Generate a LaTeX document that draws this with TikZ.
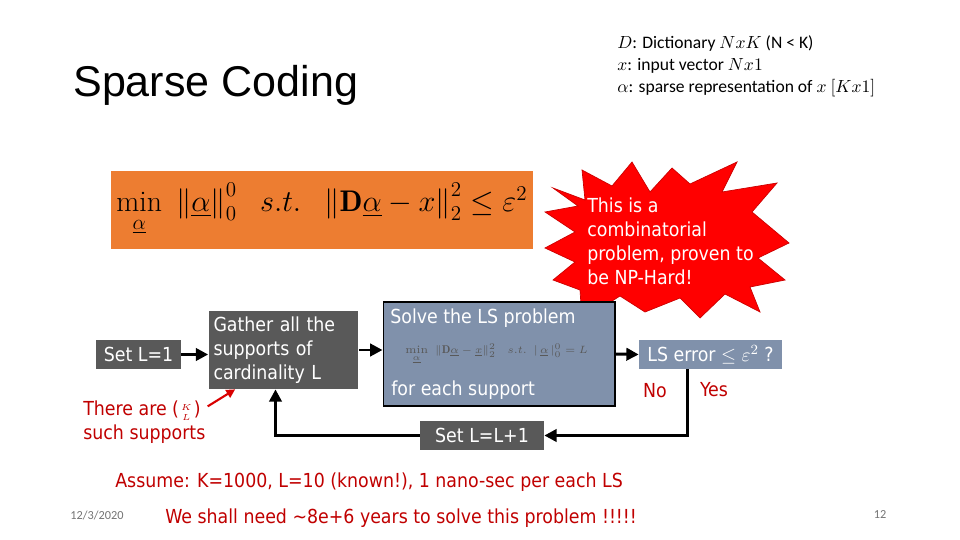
\documentclass[tikz,border=0pt]{standalone}
\usepackage{fontspec}
\usepackage{amsmath}
\usetikzlibrary{arrows.meta, positioning, calc}
\newfontfamily\tahoma{DejaVu Sans Condensed}
\newfontfamily\calibri{Carlito}
\newfontfamily\arial{Liberation Sans}
\definecolor{SlideGray}{HTML}{595959}
\definecolor{SlideBlue}{HTML}{8091AB}
\definecolor{SlideOrange}{HTML}{ED7D31}
\definecolor{SlideRed}{HTML}{C00000}
\definecolor{BurstRed}{HTML}{FF0000}
\newcommand{\boxfont}{\tahoma\fontsize{11}{13.6}\selectfont}
\tikzset{
    % dark grey step boxes
    graybox/.style={
        rectangle,
        fill=SlideGray,
        text=white,
        minimum height=0.58cm,
        inner sep=2pt,
        font=\boxfont
    },
    % blue-grey boxes
    bluebox/.style={
        rectangle,
        fill=SlideBlue,
        text=white,
        minimum height=0.58cm,
        inner sep=2pt,
        font=\boxfont
    },
    % red remarks
    remark/.style={
        text=SlideRed,
        inner sep=0pt,
        align=left,
        font=\boxfont
    },
    % arrow styles
    arrow/.style={
        -{Triangle[length=7pt,width=7pt]},
        line width=1.7pt,
        draw=black
    },
    redarrow/.style={
        -{Triangle[length=5pt,width=5pt]},
        line width=1.2pt,
        draw=red!85!black
    }
}

\begin{document}
\begin{tikzpicture}[x=0.02cm, y=-0.02cm]
    \useasboundingbox (0,0) rectangle (960,540);

    % title and notation
    \node[anchor=base west, inner sep=0, font=\arial\fontsize{24.5}{28}\selectfont] (title) at (73,97) {Sparse Coding};
    \node[anchor=west, inner sep=0, align=left, font=\calibri\fontsize{10}{12.5}\selectfont] (notation) at (617,66)
        {$D$: Dictionary $NxK$ (N < K)\\ $x$: input vector $Nx1$\\ $\alpha$: sparse representation of $x$ $[Kx1]$};

    % objective
    \node[rectangle, fill=SlideOrange, minimum width=8.36cm, minimum height=1.56cm, font=\fontsize{17}{20}\selectfont] (objective) at (322,210)
        {$\min\limits_{\underline{\alpha}}\ \left\|\underline{\alpha}\right\|_0^0\ \ s.t.\ \ \left\|\mathbf{D}\underline{\alpha}-x\right\|_2^2\leq\varepsilon^2$};

    % starburst
    \fill[BurstRed, draw=red!80!black, line width=0.4pt]
        (553,188) -- (585,200) -- (582,170) -- (612,186) -- (632,162) -- (650,192)
        -- (672,168) -- (690,184) -- (737,162) -- (722,192) -- (777,183) -- (752,212)
        -- (789,243) -- (758,258) -- (785,280) -- (750,287) -- (760,312) -- (725,294)
        -- (700,318) -- (680,298) -- (645,312) -- (620,296) -- (582,320) -- (580,290)
        -- (553,280) -- (575,262) -- (545,248) -- (575,232) -- (545,212) -- (578,206) -- cycle;
    \node[anchor=west, inner sep=0, align=left, text=white, font=\boxfont] (burst) at (587,241)
        {This is a\\ combinatorial\\ problem, proven to\\ be NP-Hard!};

    % flow
    \node[graybox, minimum width=1.7cm] (setone) at (138.5,354.5) {Set L=1};
    \node[graybox, minimum height=1.56cm, text width=2.8cm, align=left, inner xsep=0.1cm] (gather) at (283.5,350)
        {Gather all the\\ supports of\\ cardinality L};
    \node[bluebox, draw=black, line width=0.6pt, minimum width=4.64cm, minimum height=2.08cm] (solve) at (499,354) {};
    \node[anchor=west, inner sep=0, text=white, font=\boxfont] (solvetop) at (390,318) {Solve the LS problem};
    \node[anchor=west, inner sep=0, text=black!65, font=\fontsize{6.4}{8}\selectfont] (lsform) at (405,354)
        {$\min\limits_{\underline{\alpha}}\ \left\|\mathbf{D}\underline{\alpha}-\underline{x}\right\|_2^2\ \ s.t.\ \left|\,\underline{\alpha}\,\right|_0^0=L$};
    \node[anchor=west, inner sep=0, text=white, font=\boxfont] (solvebot) at (391,390) {for each support};
    \node[bluebox, minimum width=2.86cm] (check) at (710.5,354.5) {LS error $\leq$ $\varepsilon^2$ ?};
    \node[graybox, minimum width=2.48cm] (setnext) at (482,435.5) {Set L=L+1};

    \node[remark] (no) at (655,391) {No};
    \node[remark] (yes) at (714,390) {Yes};
    \node[remark, anchor=west] (count) at (83,422) {There are ($\genfrac{}{}{0pt}{3}{K}{L}$)\\ such supports};

    \coordinate (checkout) at ($(check.south)+(-23,0)$);
    \coordinate (gatherin) at ($(gather.south)+(-8,0)$);
    \coordinate (countout) at ($(count.north east)+(2,6)$);

    \draw[arrow] (setone.east) -- (setone.east -| gather.west);
    \draw[arrow] (gather.east) -- (gather.east -| solve.west);
    \draw[arrow] (solve.east) -- (check.west);
    \draw[arrow] (checkout) |- (setnext.east);
    \draw[arrow] (setnext.west) -| (gatherin);
    \draw[redarrow] (countout) -- ($(gather.south west)+(27,0)$);

    % bottom lines
    \node[remark, anchor=west] (assume) at (115,482) {Assume: K=1000, L=10 (known!), 1 nano-sec per each LS};
    \node[remark, anchor=west] (need) at (165,518) {We shall need \textasciitilde8e+6 years to solve this problem !!!!!};
    \node[text=black!55, font=\calibri\fontsize{7}{8}\selectfont] (date) at (97,515) {12/3/2020};
    \node[text=black!55, font=\calibri\fontsize{7}{8}\selectfont] (page) at (880,515) {12};
\end{tikzpicture}
\end{document}
